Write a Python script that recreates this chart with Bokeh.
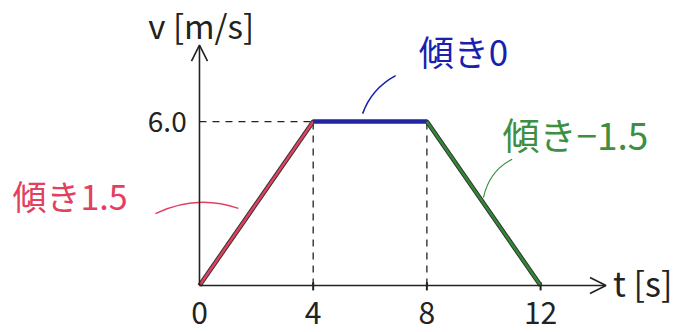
from bokeh.plotting import figure
from bokeh.models import Range1d, Arrow, OpenHead, ColumnDataSource
from bokeh.core.properties import value
from bokeh.embed import file_html
from bokeh.resources import INLINE

# v-t graph: accelerate, cruise, decelerate
t_points = [0, 4, 8, 12]          # time [s]
v_points = [0.0, 6.0, 6.0, 0.0]   # velocity [m/s]
t_ticks = [0, 4, 8, 12]
v_marked = 6.0
seg_colors = ["#e2405e", "#1c22c4", "#2f8a34"]
label_colors = ["#e2405e", "#1a1fb0", "#3d8f42"]

# slope of each segment
slopes = [(v_points[i + 1] - v_points[i]) / (t_points[i + 1] - t_points[i])
          for i in range(len(t_points) - 1)]


def slope_text(s):
    if s == 0:
        return "傾き0"
    return "傾き" + ("%g" % s).replace("-", "−")


FONT = value("Noto Sans CJK JP")

p = figure(width=697, height=332, output_backend="svg", toolbar_location=None,
           x_range=Range1d(-7.0, 17.52), y_range=Range1d(-1.72, 10.43),
           min_border=0, outline_line_color=None)
p.axis.visible = False
p.grid.visible = False
p.background_fill_color = "white"

ink = "#222222"

# axes with open arrow heads
p.add_layout(Arrow(x_start=0, y_start=0, x_end=14.3, y_end=0,
                   line_color=ink, line_width=1.6,
                   end=OpenHead(size=16, line_color=ink, line_width=1.6)))
p.add_layout(Arrow(x_start=0, y_start=0, x_end=0, y_end=8.8,
                   line_color=ink, line_width=1.6,
                   end=OpenHead(size=16, line_color=ink, line_width=1.6)))

# dashed guide lines to the plateau
p.line([0, t_points[1]], [v_marked, v_marked], line_color=ink, line_width=1.3,
       line_dash="7 6")
for tt in t_points[1:3]:
    p.line([tt, tt], [0, v_marked], line_color=ink, line_width=1.3,
           line_dash="7 6")

# small tick marks on the time axis
p.segment(x0=t_ticks[1:], y0=[-0.18] * 3, x1=t_ticks[1:], y1=[0.12] * 3,
          line_color=ink, line_width=2)

# graph line: dark pencil stroke with coloured overlay per segment
p.line(t_points, v_points, line_color="#333333", line_width=4.5)
seg = ColumnDataSource(dict(x0=t_points[:-1], y0=v_points[:-1],
                            x1=t_points[1:], y1=v_points[1:], c=seg_colors))
p.segment(x0="x0", y0="y0", x1="x1", y1="y1", line_color="c", line_width=2.5,
          source=seg)

# leader curves from the slope labels
p.quadratic(x0=[-1.55], y0=[2.63], x1=[1.37], y1=[2.82], cx=[-0.1], cy=[3.35],
            line_color=label_colors[0], line_width=1.4)
p.quadratic(x0=[5.74], y0=[6.29], x1=[6.9], y1=[7.68], cx=[6.05], cy=[7.2],
            line_color=label_colors[1], line_width=1.6)
p.quadratic(x0=[9.99], y0=[3.22], x1=[11.0], y1=[4.62], cx=[10.2], cy=[4.2],
            line_color=label_colors[2], line_width=1.2)

# slope labels
p.text(x=[-6.58], y=[3.3], text=[slope_text(slopes[0])], text_font=FONT,
       text_font_size="34px", text_color=label_colors[0],
       text_align="left", text_baseline="middle")
p.text(x=[7.71], y=[8.6], text=[slope_text(slopes[1])], text_font=FONT,
       text_font_size="35px", text_color=label_colors[1],
       text_align="left", text_baseline="middle")
p.text(x=[10.66], y=[5.56], text=[slope_text(slopes[2])], text_font=FONT,
       text_font_size="37px", text_color=label_colors[2],
       text_align="left", text_baseline="middle")

# axis labels and tick values
p.text(x=t_ticks, y=[-0.99] * 4, text=[str(t) for t in t_ticks], text_font=FONT,
       text_font_size="30px", text_color=ink, text_align="center",
       text_baseline="middle")
p.text(x=[-0.45], y=[v_marked], text=["%.1f" % v_marked], text_font=FONT,
       text_font_size="28px", text_color=ink, text_align="right",
       text_baseline="middle")
p.text(x=[-1.8], y=[9.55], text=["v [m/s]"], text_font=FONT,
       text_font_size="33px", text_color=ink, text_align="left",
       text_baseline="middle")
p.text(x=[14.55], y=[0.1], text=["t [s]"], text_font=FONT,
       text_font_size="34px", text_color=ink, text_align="left",
       text_baseline="middle")

open("out.html", "w").write(file_html(p, INLINE))
